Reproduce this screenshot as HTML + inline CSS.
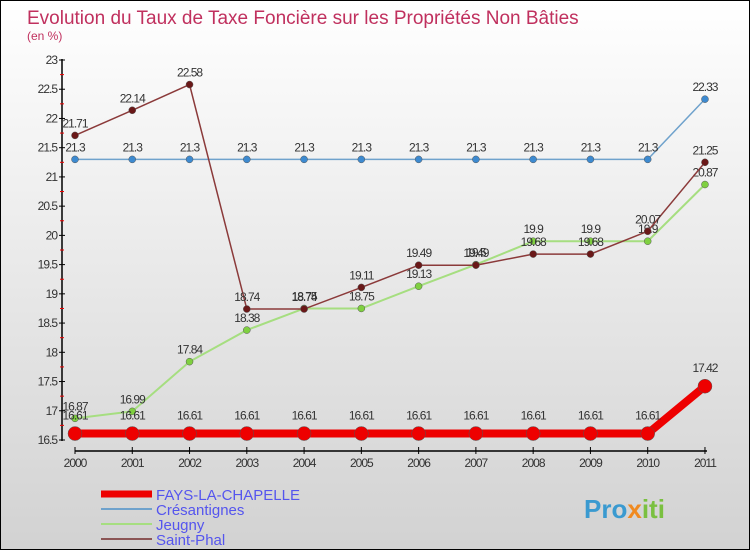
<!DOCTYPE html>
<html><head><meta charset="utf-8"><style>
html,body{margin:0;padding:0}
body{width:750px;height:550px;overflow:hidden;font-family:"Liberation Sans",sans-serif}
#c{position:absolute;left:0;top:0;width:748px;height:548px;border:1px solid #000;background:linear-gradient(#fff,#d2d2d2)}
svg text{font-family:"Liberation Sans",sans-serif}
</style></head><body>
<div id="c">
<svg id="s" width="748" height="548">
<text x="26" y="23" font-size="19" fill="#c0305e">Evolution du Taux de Taxe Foncière sur les Propriétés Non Bâties</text>
<text x="26" y="39" font-size="12" fill="#c0305e">(en %)</text>
</svg>
</div>
<script>
const years=["2000","2001","2002","2003","2004","2005","2006","2007","2008","2009","2010","2011"];
const yTicks=[16.5,17,17.5,18,18.5,19,19.5,20,20.5,21,21.5,22,22.5,23];
const fays=[16.61,16.61,16.61,16.61,16.61,16.61,16.61,16.61,16.61,16.61,16.61,17.42];
const cresantignes=[21.3,21.3,21.3,21.3,21.3,21.3,21.3,21.3,21.3,21.3,21.3,22.33];
const jeugny=[16.87,16.99,17.84,18.38,18.75,18.75,19.13,19.5,19.9,19.9,19.9,20.87];
const saintPhal=[21.71,22.14,22.58,18.74,18.74,19.11,19.49,19.49,19.68,19.68,20.07,21.25];
const svg=document.getElementById('s');const NS='http://www.w3.org/2000/svg';
function X(i){return 74+i*57.27;}
function Y(v){return 59+(23-v)*58.46;}
function mk(t,a,p){const e=document.createElementNS(NS,t);for(const k in a)e.setAttribute(k,a[k]);(p||svg).appendChild(e);return e;}
// axes
const ax=mk('g',{});


mk('line',{x1:61,y1:58,x2:61,y2:440,stroke:'#000','stroke-width':1.5},ax);
mk('line',{x1:74,y1:450,x2:706,y2:450,stroke:'#000','stroke-width':1.5},ax);
yTicks.forEach((v,i)=>{
 mk('line',{x1:58,y1:Y(v),x2:64,y2:Y(v),stroke:'#000'},ax);
 if(i<yTicks.length-1)mk('line',{x1:59,y1:Y(v+0.25),x2:63,y2:Y(v+0.25),stroke:'#e00'},ax);
 const t=mk('text',{x:56,y:Y(v)+4,'font-size':12,'text-anchor':'end',fill:'#333','letter-spacing':'-1'},ax);
 
 
 t.textContent=String(v);
});
years.forEach((y,i)=>{
 mk('line',{x1:X(i),y1:446,x2:X(i),y2:453,stroke:'#000'},ax);
 const t=mk('text',{x:X(i),y:466,'font-size':12,'text-anchor':'middle',fill:'#333','letter-spacing':'-1'},ax);
 
 
 t.textContent=y;
});
function series(data,color,dot,w,r,name,lblOff){
 const g=mk('g',{});
 
 
 mk('polyline',{points:data.map((v,i)=>X(i)+','+Y(v)).join(' '),fill:'none',stroke:color,'stroke-width':w},g);
 data.forEach((v,i)=>{
  const c=mk('circle',{cx:X(i),cy:Y(v),r:r,fill:dot,stroke:'#555','stroke-width':0.5},g);
  
  
  const t=mk('text',{x:X(i),y:Y(v)-lblOff,'font-size':12,'text-anchor':'middle',fill:'#333','letter-spacing':'-1'},g);
  
  
  t.textContent=String(v);
 });
}
series(cresantignes,'#6fa2cc','#3d8ad0',1.5,3.5,'cresantignes-series',8);
series(jeugny,'#a6de80','#7fd040',2,3.5,'jeugny-series',8);
series(saintPhal,'#8b3a3a','#6a1818',1.5,3.5,'saint-phal-series',8);
series(fays,'#ee0000','#ee0000',8,7,'fays-series',14);
// legend
const lg=mk('g',{});


const leg=[['FAYS-LA-CHAPELLE','#ee0000',7],['Crésantignes','#6fa2cc',2],['Jeugny','#a6de80',2],['Saint-Phal','#8b5555',2]];
leg.forEach((l,i)=>{
 const y=493+i*15;
 mk('line',{x1:100,y1:y,x2:151,y2:y,stroke:l[1],'stroke-width':l[2]},lg);
 const t=mk('text',{x:155,y:y+6,'font-size':15,fill:'#5555ee'},lg);
 
 
 t.textContent=l[0];
});
const pt=mk('text',{x:583,y:517,'font-size':26,'font-weight':'bold',fill:'#3a9ad0'});


pt.innerHTML='Pro<tspan fill="#f08a20">x</tspan><tspan fill="#7ac040">iti</tspan>';
</script>
</body></html>
